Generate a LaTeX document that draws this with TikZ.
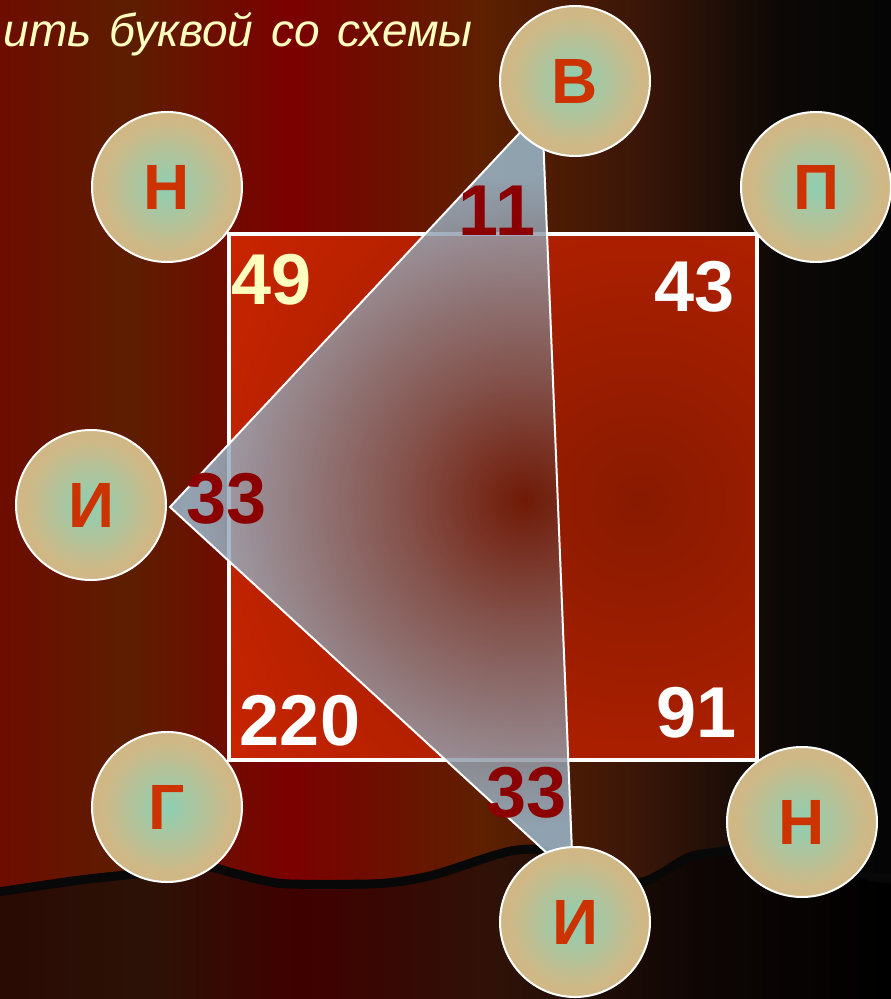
\documentclass[tikz,border=0pt]{standalone}
\usepackage{fontspec}
\setmainfont{Liberation Sans}
\newfontfamily\headfont[WordSpace=1.4]{Liberation Sans}
\usetikzlibrary{positioning}

\definecolor{bg0}{HTML}{6E0C00}
\definecolor{bg1}{HTML}{5C1E00}
\definecolor{bg2}{HTML}{7C0000}
\definecolor{bg3}{HTML}{5E2000}
\definecolor{bg4}{HTML}{3A1608}
\definecolor{bg5}{HTML}{0C0806}
\definecolor{bg6}{HTML}{050505}
\definecolor{lo0}{HTML}{2A0A04}
\definecolor{lo1}{HTML}{2C1206}
\definecolor{lo2}{HTML}{400000}
\definecolor{lo3}{HTML}{2E1208}
\definecolor{lo4}{HTML}{0E0604}
\definecolor{lo5}{HTML}{000000}
\definecolor{mint}{HTML}{8ECFB2}
\definecolor{tan}{HTML}{D0B886}
\definecolor{letred}{HTML}{CC3300}
\definecolor{cream}{HTML}{FFFFC0}
\definecolor{dred}{HTML}{8B0000}
\definecolor{sqin}{HTML}{881A00}
\definecolor{sqout}{HTML}{D62600}
\definecolor{trin}{HTML}{6A1A08}
\definecolor{trout}{HTML}{9CBACE}

\pgfdeclareradialshading{ball}{\pgfpoint{0bp}{0bp}}{color(0bp)=(mint); color(10bp)=(mint!55!tan); color(22bp)=(tan); color(50bp)=(tan)}
\pgfdeclareradialshading{glass}{\pgfpoint{0bp}{0bp}}{color(0bp)=(trin); color(7bp)=(trin!60!trout); color(19bp)=(trout); color(50bp)=(trout)}

\begin{document}
\begin{tikzpicture}[
    x=1pt, y=-1pt,
    ball/.style={circle, draw=white, line width=2pt, shade, shading=ball, minimum size=150pt, inner sep=0pt, text=letred, font=\bfseries\fontsize{64}{64}\selectfont},
    num/.style={inner sep=0pt, font=\bfseries\fontsize{72}{72}\selectfont},
    edge/.style={draw=white, line width=2pt, line join=round},
    hill/.style={draw=black!97, line width=9pt, line join=round, line cap=round}
]
    \useasboundingbox (0,0) rectangle (891,999);

    % background
    \foreach \xa/\xb/\ca/\cb in {0/130/bg0/bg1, 130/290/bg1/bg2, 290/480/bg2/bg3, 480/640/bg3/bg4, 640/780/bg4/bg5, 780/891/bg5/bg6}
        \shade[left color=\ca, right color=\cb] (\xa-1,-1) rectangle (\xb+1,1000);
    \begin{scope}
        \clip plot[smooth] coordinates {(-2,892) (80,880) (135,874) (200,866) (233,873) (261,880) (290,884) (369,884) (403,881) (437,874) (489,857) (517,850) (545,851) (600,870) (642,882) (687,858) (710,853) (740,850) (800,855) (870,876) (893,878)} -- (893,1001) -- (-2,1001) -- cycle;
        \foreach \xa/\xb/\ca/\cb in {0/150/lo0/lo1, 150/300/lo1/lo2, 300/500/lo2/lo3, 500/700/lo3/lo4, 700/891/lo4/lo5}
            \shade[left color=\ca, right color=\cb] (\xa-1,-1) rectangle (\xb+1,1000);
    \end{scope}
    \draw[hill] plot[smooth] coordinates {(-2,892) (80,880) (135,874) (200,866) (233,873) (261,880) (290,884) (369,884) (403,881) (437,874) (489,857) (517,850) (545,851) (600,870) (642,882) (687,858) (710,853) (740,850) (800,855) (870,876) (893,878)};

    \node[anchor=base east, inner sep=0pt, text=cream, font=\headfont\itshape\fontsize{46}{46}\selectfont] (head) at (473,46) {ить буквой со схемы};

    % square
    \coordinate (nw) at (229,234);
    \coordinate (se) at (757,760);
    \begin{scope}
        \clip (nw) rectangle (se);
        \shade[inner color=sqin, outer color=sqout] (640,500) circle (580);
    \end{scope}
    \draw[white, line width=4pt] (nw) rectangle (se);

    % triangle
    \coordinate (tl) at (170,507);
    \coordinate (tt) at (542,109);
    \coordinate (tb) at (573,877);
    \begin{scope}
        \clip (tl) -- (tt) -- (tb) -- cycle;
        \shade[shading=glass, opacity=0.85] (525,500) circle (430);
    \end{scope}
    \draw[edge] (tl) -- (tt) -- (tb) -- cycle;

    % letters
    \node[ball] (v)  at (575,81)  {В};
    \node[ball] (n1) at (167,187) {Н};
    \node[ball] (p)  at (816,187) {П};
    \node[ball] (i1) at (91,505)  {И};
    \node[ball] (g)  at (167,807) {Г};
    \node[ball] (n2) at (802,822) {Н};
    \node[ball] (i2) at (575,922) {И};

    % numbers
    \node[num, text=cream] (c49)  at (272,280) {49};
    \node[num, text=white] (c43)  at (695,287) {43};
    \node[num, text=white] (c220) at (300,721) {220};
    \node[num, text=white] (c91)  at (697,713) {91};
    \node[num, text=dred]  (c11)  at (497,211) {11};
    \node[num, text=dred]  (c33a) at (227,499) {33};
    \node[num, text=dred]  (c33b) at (527,793) {33};
\end{tikzpicture}
\end{document}
